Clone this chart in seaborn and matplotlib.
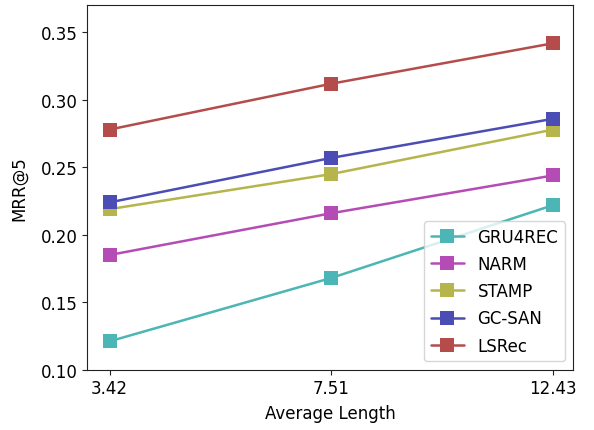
import numpy as np
import pandas as pd
import seaborn as sns
import matplotlib
matplotlib.use("Agg")
import matplotlib.pyplot as plt

# 데이터: 평균 세션 길이별 MRR@5
lengths = ["3.42", "7.51", "12.43"]
methods = ["GRU4REC", "NARM", "STAMP", "GC-SAN", "LSRec"]
gru4rec = [0.121, 0.168, 0.222]
narm = [0.185, 0.216, 0.244]
stamp = [0.219, 0.245, 0.278]
gcsan = [0.224, 0.257, 0.286]
lsrec = [0.278, 0.312, 0.342]
colors = ["#4cb5b5", "#b54cb5", "#b5b54c", "#4c4cb5", "#b54c4c"]

rows = []
for name, vals in zip(methods, [gru4rec, narm, stamp, gcsan, lsrec]):
    for i, v in enumerate(vals):
        rows.append({"pos": i, "method": name, "mrr": v})
df = pd.DataFrame(rows)

sns.set_style("ticks", {"axes.edgecolor": "#222222", "text.color": "black",
                        "xtick.color": "#222222", "ytick.color": "#222222",
                        "axes.labelcolor": "black"})
plt.rcParams['font.family'] = ['DejaVu Sans']

fig, ax = plt.subplots(figsize=(5.94, 4.31), dpi=100)
sns.lineplot(data=df, x="pos", y="mrr", hue="method", hue_order=methods,
             palette=colors, marker="s", markersize=9.5, markeredgewidth=0,
             linewidth=1.8, ax=ax)

ax.set_xticks(range(len(lengths)))
ax.set_xticklabels(lengths)
ax.set_xlim(-0.1, 2.09)
ax.set_ylim(0.10, 0.37)
ax.set_yticks([0.10, 0.15, 0.20, 0.25, 0.30, 0.35])
ax.tick_params(labelsize=12, labelcolor="black")
ax.set_xlabel("Average Length", fontsize=12, labelpad=5)
ax.set_ylabel("MRR@5", fontsize=12, labelpad=9)
ax.legend(loc="lower right", fontsize=12, title=None, handlelength=2.0,
          labelspacing=0.55)

plt.subplots_adjust(left=0.147, right=0.965, top=0.985, bottom=0.14)
plt.savefig("out.png", dpi=100)
